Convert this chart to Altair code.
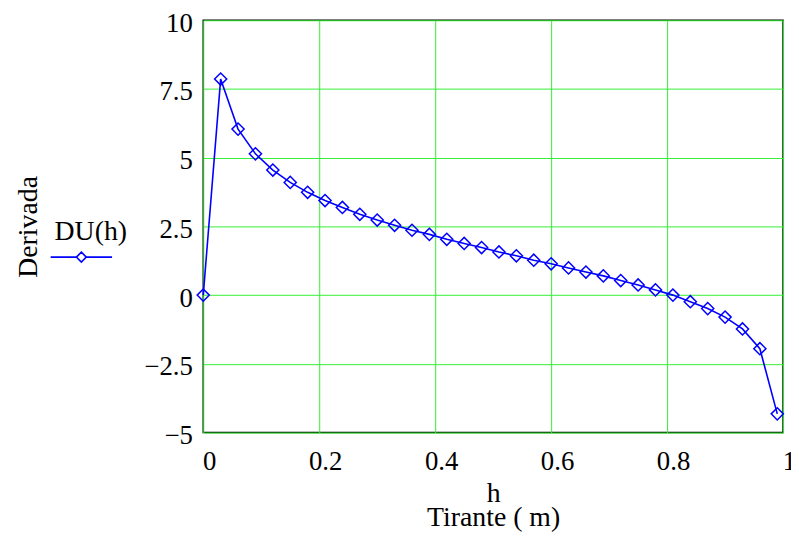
import altair as alt
import pandas as pd

# Tirante h (m)
h = [0.00, 0.03, 0.06, 0.09, 0.12, 0.15, 0.18, 0.21, 0.24, 0.27, 0.30, 0.33,
     0.36, 0.39, 0.42, 0.45, 0.48, 0.51, 0.54, 0.57, 0.60, 0.63, 0.66, 0.69,
     0.72, 0.75, 0.78, 0.81, 0.84, 0.87, 0.90, 0.93, 0.96, 0.99]
# Derivada DU(h)
du = [0.00, 7.86, 6.04, 5.14, 4.55, 4.10, 3.74, 3.44, 3.19, 2.94, 2.73, 2.54,
      2.36, 2.21, 2.03, 1.88, 1.73, 1.57, 1.43, 1.27, 1.14, 0.99, 0.84, 0.70,
      0.53, 0.37, 0.19, 0.00, -0.24, -0.49, -0.80, -1.23, -1.95, -4.32]
serie = ["DU(h)"] * len(h)

x_ticks = [0, 0.2, 0.4, 0.6, 0.8, 1]
y_ticks = [-5, -2.5, 0, 2.5, 5, 7.5, 10]

df = pd.DataFrame({"h": h, "DU": du, "serie": serie})

FONT = "Liberation Serif"
BLUE = "#0000ff"
GRID = "#33f033"

legend_path = "M-6.2,0L-1,0M1,0L6.2,0M0,-1L1,0L0,1L-1,0Z"

chart = alt.Chart(df).mark_line(
    strokeWidth=1.6,
    point=alt.OverlayMarkDef(shape="diamond", filled=False, size=150, strokeWidth=1.5),
).encode(
    x=alt.X("h:Q",
            scale=alt.Scale(domain=[0, 1], nice=False, zero=False),
            axis=alt.Axis(values=x_ticks, format=".1~f", title=["h", "Tirante ( m)"],
                          labelFont=FONT, labelFontSize=27, labelColor="black",
                          labelOffset=6, labelBaseline="alphabetic", labelPadding=37,
                          labelFlush=False, labelOverlap=False,
                          ticks=False, tickSize=0, domain=False,
                          grid=True, gridColor=GRID, gridWidth=1,
                          titleFont=FONT, titleFontSize=28, titleFontWeight="normal",
                          titleColor="black", titleBaseline="alphabetic",
                          titleY=70, titleLineHeight=24)),
    y=alt.Y("DU:Q",
            scale=alt.Scale(domain=[-5, 10], nice=False, zero=False),
            axis=alt.Axis(values=y_ticks, format=".1~f", title="Derivada",
                          labelFont=FONT, labelFontSize=27, labelColor="black",
                          labelPadding=11, labelOffset=3, labelOverlap=False,
                          ticks=False, tickSize=0,
                          domain=False, grid=True, gridColor=GRID, gridWidth=1,
                          titleFont=FONT, titleFontSize=28, titleFontWeight="normal",
                          titleColor="black", titleBaseline="alphabetic",
                          titleX=-168)),
    color=alt.Color("serie:N", scale=alt.Scale(range=[BLUE]),
                    legend=alt.Legend(title="DU(h)", orient="none",
                                      legendX=-150, legendY=200, padding=0,
                                      symbolType=legend_path, symbolSize=100,
                                      symbolStrokeWidth=1.6,
                                      symbolFillColor="transparent",
                                      symbolStrokeColor=BLUE, symbolOffset=21,
                                      labelExpr="''", labelFontSize=1,
                                      titleFont=FONT, titleFontSize=28,
                                      titleFontWeight="normal", titleColor="black",
                                      titlePadding=5)),
).properties(
    width=585, height=416,
    autosize=alt.AutoSizeParams(type="none"),
    padding={"left": 197, "top": 10, "right": 8, "bottom": 100},
    background="white",
).configure_view(stroke="black", strokeWidth=1.5)

chart.save("out.html", embed_options={"renderer": "svg", "actions": False})
